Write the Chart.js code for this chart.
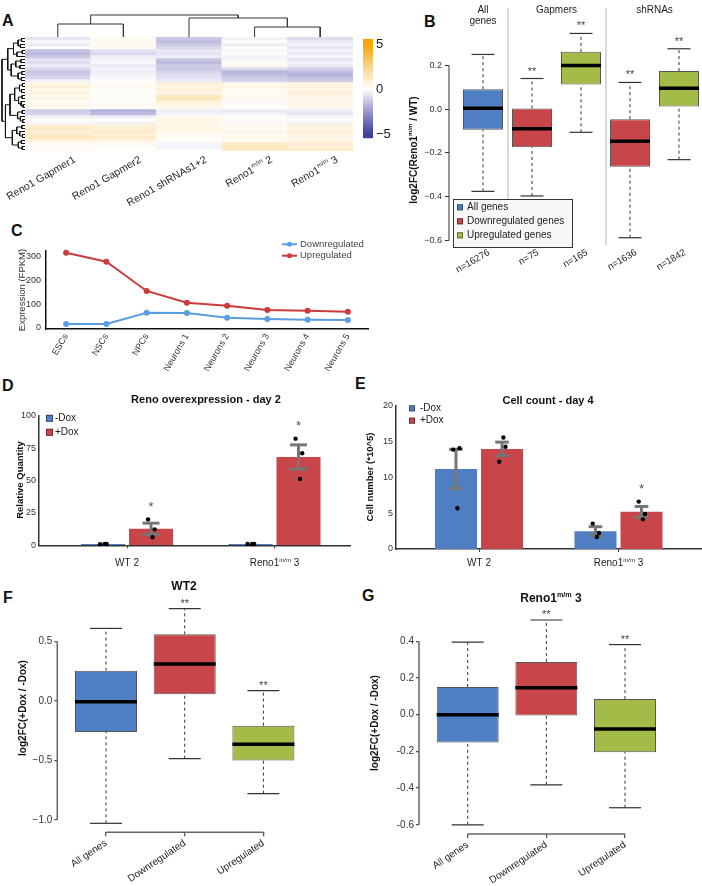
<!DOCTYPE html>
<html>
<head>
<meta charset="utf-8">
<title>Reno1 figure</title>
<script src="https://cdn.jsdelivr.net/npm/chart.js@4.4.1/dist/chart.umd.min.js"></script>
<style>
  html, body { margin:0; padding:0; background:#ffffff; }
  body { position:relative; width:702px; height:886px; overflow:hidden; font-family:"Liberation Sans", Arial, sans-serif; }
  canvas { position:absolute; }
  .panel { position:absolute; font-weight:bold; font-size:16px; line-height:16px; color:#111; }
</style>
</head>
<body>
<div class="panel" style="left:2px;top:13px">A</div>
<div class="panel" style="left:424px;top:14px">B</div>
<div class="panel" style="left:11px;top:223px">C</div>
<div class="panel" style="left:2px;top:378px">D</div>
<div class="panel" style="left:355px;top:376px">E</div>
<div class="panel" style="left:3px;top:590px">F</div>
<div class="panel" style="left:362px;top:588px">G</div>
<script>
// ======================= DATA =======================
// A – heatmap (log2FC per gene cluster row, 5 samples)
const heatColumns = ['Reno1 Gapmer1', 'Reno1 Gapmer2', 'Reno1 shRNAs1+2', 'Reno1^{m/m} 2', 'Reno1^{m/m} 3'];
const gapmer1 = [-0.6,-0.2,-0.5,-0.1,-1.4,-1.6,-1.3,-0.6,-0.8,-0.4,-0.9,-1.3,-1.2,-1.0,-0.3,0.6,0.8,0.4,0.7,0.3,0.6,0.2,0.5,0.3,-1.2,-1.0,-0.3,0.2,-0.2,1.0,1.3,0.8,1.1,1.4,0.7,0.2,0.1,0.3];
const gapmer2 = [0.3,0.4,0.2,0.3,-0.7,-0.9,-0.4,-0.3,-0.2,-0.5,-0.3,-0.4,-0.3,-0.2,0.1,0.2,0.3,0.1,0.2,-0.1,0.2,0.1,0.3,0.1,-1.8,-1.6,-0.4,0.1,-0.3,0.8,1.0,1.2,0.9,1.3,0.6,0.3,0.2,0.1];
const shrnas  = [-1.3,-1.5,-1.2,-0.9,-0.5,-0.6,-0.4,-1.4,-1.6,-1.2,-1.3,-1.0,-0.8,-0.7,-0.5,0.8,0.6,0.9,0.5,1.2,1.5,0.8,0.6,0.4,-0.4,-0.3,0.3,0.6,0.5,0.5,0.7,0.4,0.3,0.2,0.1,-0.2,-0.3,-0.1];
const renoMM2 = [-0.3,0.1,-0.4,0.2,-0.2,0.1,-0.3,-0.2,0.3,0.4,-0.8,-1.7,-1.5,-1.2,-1.0,0.4,0.5,0.3,0.2,0.4,0.3,-0.2,0.2,0.1,-0.5,-0.3,0.1,0.3,-0.1,0.4,0.3,0.5,0.2,0.4,0.3,1.2,1.4,1.1];
const renoMM3 = [-0.8,-0.5,-0.3,-0.6,-0.3,-0.5,-0.2,-0.6,-0.3,-0.5,-1.1,-1.5,-1.8,-1.4,-1.2,0.6,0.7,0.5,0.8,0.6,0.5,0.4,0.6,0.3,-0.4,-0.6,-0.2,0.2,-0.3,0.8,0.6,0.9,0.7,0.5,0.6,1.0,0.8,1.2];
// dendrograms: [mergeHeight, left, right]; leaves are indices
const colTree = [22, [13, 0, 1], [19, 2, [10, 3, 4]]];
const rowTree = [10,
  [7.5,
    [5, [3, [1.5, 0, 1], [2, 2, 3]], [3.5, [1.2, 4, 5], 6]],
    [6, [4, [1.8, 7, 8], [2.2, 9, 10]], [3, [1.4, 11, 12], [1.6, 13, 14]]]],
  [8.5,
    [6.5, [4.5, [2.4, [1.1, 15, 16], [1.5, 17, 18]], [2.8, [1.3, 19, 20], [1.7, 21, [0.8, 22, 23]]]],
          [3.2, [1.2, 24, 25], [2, 26, [1, 27, 28]]]],
    [5.5, [3.6, [1.4, 29, 30], [2.3, 31, [1.1, 32, 33]]], [2.9, [1.6, 34, 35], [1.2, 36, 37]]]]];
const colorScaleTicks = [-5, 0, 5];
const colorScaleRange = [-5.4, 5.6];

// B – boxplots log2FC(Reno1m/m / WT)
const bCounts = ['n=16276', 'n=75', 'n=165', 'n=1636', 'n=1842'];
const bLow  = [-0.376, -0.397, -0.106, -0.588, -0.231];
const bQ1   = [-0.094, -0.174,  0.113, -0.263,  0.012];
const bMed  = [ 0.004, -0.090,  0.200, -0.147,  0.096];
const bQ3   = [ 0.091,  0.003,  0.262, -0.046,  0.174];
const bHigh = [ 0.250,  0.140,  0.346,  0.122,  0.276];
const bKind = [0, 1, 2, 1, 2];
const bSig  = ['', '**', '**', '**', '**'];
const bGroups = [['All', 'genes'], ['Gapmers'], ['shRNAs']];
const bGroupOf = [0, 1, 1, 2, 2];
const bTicks = [-0.6, -0.4, -0.2, 0, 0.2];
const geneSets = ['All genes', 'Downregulated genes', 'Upregulated genes'];

// C – expression over differentiation
const stages = ['ESCs', 'NSCs', 'NPCs', 'Neurons 1', 'Neurons 2', 'Neurons 3', 'Neurons 4', 'Neurons 5'];
const downExpr = [17, 17, 64, 63, 43, 38, 35, 33];
const upExpr   = [315, 277, 155, 106, 93, 75, 72, 68];
const exprSeries = ['Downregulated', 'Upregulated'];
const cTicks = [0, 100, 200, 300];

// D – Reno overexpression day 2
const cellLines = ['WT 2', 'Reno1^{m/m} 3'];
const doxLabels = ['-Dox', '+Dox'];
const dMinus = [1, 1],      dMinusSem = [0, 0],     dMinusReps = [[0.9, 1.0, 1.1], [0.95, 1.0, 1.05]];
const dPlus  = [12.8, 68.2], dPlusSem = [4.3, 9.3],  dPlusReps  = [[20, 12.3, 6.2], [82.3, 71, 51.2]];
const dSigMinus = ['', ''], dSigPlus = ['*', '*'];
const dTicks = [0, 25, 50, 75, 100];

// E – cell count day 4 (*10^5)
const eMinus = [11.2, 2.5], eMinusSem = [2.75, 0.62], eMinusReps = [[13.9, 14.1, 5.7], [3.55, 2.24, 1.68]];
const ePlus  = [14.0, 5.2], ePlusSem  = [0.95, 0.75], ePlusReps  = [[12.2, 14.3, 15.6], [6.63, 4.9, 4.15]];
const eSigMinus = ['', ''], eSigPlus = ['', '*'];
const eTicks = [0, 5, 10, 15, 20];

// F / G – log2FC(+Dox / -Dox)
const fgCategories = ['All genes', 'Downregulated', 'Upregulated'];
const fLow = [-1.028, -0.485, -0.779], fQ1 = [-0.26, 0.056, -0.499], fMed = [-0.006, 0.311, -0.364], fQ3 = [0.255, 0.56, -0.207], fHigh = [0.61, 0.776, 0.087];
const fSig = ['', '**', '**'];
const fTicks = [-1, -0.5, 0, 0.5];
const gLow = [-0.6, -0.382, -0.507], gQ1 = [-0.151, -0.004, -0.204], gMed = [0, 0.147, -0.078], gQ3 = [0.151, 0.287, 0.085], gHigh = [0.395, 0.516, 0.382];
const gSig = ['', '**', '**'];
const gTicks = [-0.6, -0.4, -0.2, 0, 0.2, 0.4];

// ======================= STYLE / HELPERS =======================
const FF = '"Liberation Sans", Arial, Helvetica, sans-serif';
Chart.defaults.font.family = FF;
Chart.defaults.color = '#333';
Chart.defaults.animation = false;
Chart.defaults.responsive = false;
Chart.defaults.maintainAspectRatio = false;
Chart.defaults.events = [];
Chart.defaults.plugins.legend.display = false;
Chart.defaults.plugins.tooltip.enabled = false;

const C_BLUE = '#4f7fc2', C_RED = '#c8464a', C_GREEN = '#a3bc47';
const setColors = [C_BLUE, C_RED, C_GREEN];
const LINE_BLUE = '#5a9de3', LINE_RED = '#cc3b3b';
const ERR = '#767676';
const JIT = [-0.02, 0.025, 0.01];
const HEAT_STOPS = [[-5, [59, 63, 152]], [-2.5, [150, 148, 205]], [0, [255, 255, 255]], [2.5, [251, 212, 140]], [5, [247, 166, 0]]];

function heatColor(v) {
  v = Math.max(-5, Math.min(5, v));
  for (let k = 1; k < HEAT_STOPS.length; k++) {
    const [v0, c0] = HEAT_STOPS[k - 1], [v1, c1] = HEAT_STOPS[k];
    if (v <= v1) {
      const t = (v - v0) / (v1 - v0);
      return 'rgb(' + c0.map((c, j) => Math.round(c + (c1[j] - c) * t)).join(',') + ')';
    }
  }
  return 'rgb(247,166,0)';
}

function mk(l, t, w, h) {
  const c = document.createElement('canvas');
  c.width = w; c.height = h;
  Object.assign(c.style, { left: l + 'px', top: t + 'px', width: w + 'px', height: h + 'px' });
  c._l = l; c._t = t;
  document.body.appendChild(c);
  return c;
}
function geom(cv, plot) {
  return { yw: plot.l - cv.l, xh: cv.t + cv.h - plot.b,
           padding: { left: 0, top: plot.t - cv.t, right: cv.l + cv.w - plot.r, bottom: 0 } };
}
const xRange = (plot, p0, ppu) => ({ min: (plot.l - p0) / ppu, max: (plot.r - p0) / ppu });
const yRange = (plot, p0, ppu) => ({ min: (p0 - plot.b) / ppu, max: (p0 - plot.t) / ppu });
const fixedTicks = vals => s => { s.ticks = vals.map(v => ({ value: v })); };
const fmt1 = minus => v => { if (Math.abs(v) < 1e-9) return '0.0'; const s = Math.abs(v).toFixed(1); return v < 0 ? minus + s : s; };

function parseRich(s) {
  const out = []; const re = /\^\{([^}]*)\}/g; let last = 0, m;
  while ((m = re.exec(s))) { if (m.index > last) out.push({ t: s.slice(last, m.index) }); out.push({ t: m[1], sup: true }); last = re.lastIndex; }
  if (last < s.length) out.push({ t: s.slice(last) });
  return out;
}
function drawText(ctx, text, x, y, o = {}) {
  ctx.save();
  ctx.translate(x, y);
  if (o.rot) ctx.rotate(o.rot * Math.PI / 180);
  const size = o.size || 10, weight = o.bold ? 'bold ' : '';
  const segs = parseRich(text);
  const font = sup => weight + (sup ? (size * 0.6).toFixed(1) : size) + 'px ' + FF;
  const widths = segs.map(s => { ctx.font = font(s.sup); return ctx.measureText(s.t).width; });
  const total = widths.reduce((a, b) => a + b, 0);
  let cx = o.align === 'left' ? 0 : o.align === 'right' ? -total : -total / 2;
  ctx.fillStyle = o.color || '#222';
  ctx.textAlign = 'left';
  ctx.textBaseline = o.base || 'middle';
  segs.forEach((s, i) => { ctx.font = font(s.sup); ctx.fillText(s.t, cx, s.sup ? -size * 0.32 : 0); cx += widths[i]; });
  ctx.restore();
}
const R = (ch, X, Y) => [X - ch.canvas._l, Y - ch.canvas._t];
function P(ch, text, X, Y, o) { const [x, y] = R(ch, X, Y); drawText(ch.ctx, text, x, y, o); }
function line(ctx, x1, y1, x2, y2, color, w) {
  ctx.save(); ctx.strokeStyle = color; ctx.lineWidth = w; ctx.beginPath(); ctx.moveTo(x1, y1); ctx.lineTo(x2, y2); ctx.stroke(); ctx.restore();
}
function stars(ctx, s, x, yTop, gap, size, color) {
  drawText(ctx, s, x, yTop - gap + 0.55 * size, { size, color: color || '#444', base: 'alphabetic' });
}
function squareLegend(ch, labels, colors, X, Y, step, sq, size, dx) {
  const ctx = ch.ctx; const [x, y] = R(ch, X, Y);
  labels.forEach((lab, k) => {
    const cy = y + k * step;
    ctx.fillStyle = colors[k]; ctx.fillRect(x, cy - sq / 2, sq, sq);
    ctx.strokeStyle = 'rgba(0,0,0,0.5)'; ctx.lineWidth = 0.8; ctx.strokeRect(x + 0.4, cy - sq / 2 + 0.4, sq - 0.8, sq - 0.8);
    drawText(ctx, lab, x + dx, cy, { size, align: 'left', color: '#222' });
  });
}
function dendroSegments(tree, horizontal) {
  const pts = [];
  (function walk(node) {
    if (typeof node === 'number') return { p: node, h: 0 };
    const [h, L, Rn] = node; const a = walk(L), b = walk(Rn);
    const Q = (p, hh) => horizontal ? { x: hh, y: p } : { x: p, y: hh };
    pts.push(Q(a.p, a.h), Q(a.p, h), Q(b.p, h), Q(b.p, b.h), { x: null, y: null });
    return { p: (a.p + b.p) / 2, h };
  })(tree);
  return pts;
}
function boxSets(low, q1, med, q3, high, colors, cp, capR, medR) {
  const whisk = [], caps = [], meds = [];
  med.forEach((m, i) => {
    whisk.push({ x: i, y: low[i] }, { x: i, y: q1[i] }, { x: null, y: null }, { x: i, y: q3[i] }, { x: i, y: high[i] }, { x: null, y: null });
    caps.push({ x: i, y: low[i] }, { x: i, y: high[i] });
    meds.push({ x: i, y: m });
  });
  return [
    { type: 'line', xAxisID: 'x', data: whisk, borderColor: '#333', borderWidth: 1, borderDash: [3, 3], pointRadius: 0, spanGaps: false, order: 3, clip: false },
    { type: 'bar', xAxisID: 'x', data: q1.map((v, i) => ({ x: i, y: [v, q3[i]] })), backgroundColor: colors, borderColor: '#555', borderWidth: 1, borderSkipped: false, categoryPercentage: cp, barPercentage: 1, order: 2 },
    { type: 'line', xAxisID: 'x', data: caps, showLine: false, pointStyle: 'line', pointRadius: capR, pointBorderWidth: 1.2, pointBorderColor: '#333', order: 1, clip: false },
    { type: 'line', xAxisID: 'x', data: meds, showLine: false, pointStyle: 'line', pointRadius: medR, pointBorderWidth: 3.5, pointBorderColor: '#000', order: 0, clip: false }
  ];
}
function barSets(series, cp, bp, capR) {
  const ds = []; const off = [-cp / 4, cp / 4];
  series.forEach((s, k) => {
    ds.push({ type: 'bar', label: s.label, data: s.values.map((v, i) => ({ x: i, y: v })), backgroundColor: s.color, borderWidth: 0, categoryPercentage: cp, barPercentage: bp, order: 3 });
    const seg = [], caps = [], pts = [];
    s.values.forEach((v, i) => {
      const x = i + off[k];
      if (s.sem[i] > 0) {
        seg.push({ x, y: v - s.sem[i] }, { x, y: v + s.sem[i] }, { x: null, y: null });
        caps.push({ x, y: v - s.sem[i] }, { x, y: v + s.sem[i] });
      }
      s.reps[i].forEach((r, j) => pts.push({ x: x + JIT[j], y: r }));
    });
    ds.push({ type: 'line', data: seg, borderColor: ERR, borderWidth: 3, pointRadius: 0, spanGaps: false, order: 2, clip: false });
    ds.push({ type: 'line', data: caps, showLine: false, pointStyle: 'line', pointRadius: capR, pointBorderWidth: 3, pointBorderColor: ERR, order: 1, clip: false });
    ds.push({ type: 'line', data: pts, showLine: false, pointRadius: 2.2, pointBackgroundColor: '#000', pointBorderWidth: 0, order: 0, clip: false });
  });
  return ds;
}
function barStars(ch, series, cp) {
  const { ctx, scales: { x, y } } = ch; const off = [-cp / 4, cp / 4];
  series.forEach((s, k) => s.sig.forEach((sg, i) => {
    if (!sg) return;
    const top = Math.max(s.values[i] + s.sem[i], ...s.reps[i]);
    stars(ctx, sg, x.getPixelForValue(i + off[k]), y.getPixelForValue(top), 16, 13, '#555');
  }));
}

// ======================= A: HEATMAP =======================
const HM = { l: 25, t: 37, r: 353, b: 151 };
const heatCols = [gapmer1, gapmer2, shrnas, renoMM2, renoMM3];
const nRows = gapmer1.length;
const heatSets = [];
for (let r = 0; r < nRows; r++) {
  heatSets.push({ data: heatCols.map(() => 1), backgroundColor: heatCols.map(col => heatColor(col[r])), borderWidth: 0, barPercentage: 1, categoryPercentage: 1 });
}
new Chart(mk(0, 0, 400, 215), {
  type: 'bar',
  data: { labels: heatColumns, datasets: heatSets },
  options: {
    layout: { autoPadding: false, padding: { left: HM.l, top: HM.t, right: 400 - HM.r, bottom: 215 - HM.b } },
    scales: {
      x: { display: false, stacked: true, offset: true },
      y: { display: false, stacked: true, min: 0, max: nRows, reverse: true }
    }
  },
  plugins: [{ id: 'aLabels', afterDraw(ch) {
    const x = ch.scales.x;
    heatColumns.forEach((lab, i) => drawText(ch.ctx, lab, x.getPixelForValue(i) + 17, HM.b + 8, { size: 10.5, align: 'right', rot: -30, color: '#222' }));
  } }]
});

// column dendrogram
const colW = (HM.r - HM.l) / heatColumns.length;
new Chart(mk(0, 0, 400, 40), {
  type: 'scatter',
  data: { datasets: [{ data: dendroSegments(colTree, false), showLine: true, borderColor: '#333', borderWidth: 1, pointRadius: 0, spanGaps: false, clip: false }] },
  options: {
    layout: { autoPadding: false, padding: { left: HM.l + colW / 2, right: 400 - (HM.r - colW / 2), top: 15, bottom: 3 } },
    scales: { x: { type: 'linear', display: false, min: 0, max: heatColumns.length - 1 }, y: { type: 'linear', display: false, min: 0, max: colTree[0] } }
  }
});
// row dendrogram
new Chart(mk(0, HM.t, 27, HM.b - HM.t), {
  type: 'scatter',
  data: { datasets: [{ data: dendroSegments(rowTree, true), showLine: true, borderColor: '#111', borderWidth: 1, pointRadius: 0, spanGaps: false, clip: false }] },
  options: {
    layout: { autoPadding: false, padding: { left: 2, right: 2, top: 0, bottom: 0 } },
    scales: { x: { type: 'linear', display: false, min: 0, max: rowTree[0], reverse: true }, y: { type: 'linear', display: false, min: -0.5, max: nRows - 0.5, reverse: true } }
  }
});
// colour bar
new Chart(mk(355, 28, 47, 122), {
  type: 'bar',
  data: { labels: [''], datasets: [{ data: [colorScaleRange], borderWidth: 0, barPercentage: 1, categoryPercentage: 1,
    backgroundColor: (c) => {
      const ch = c.chart; if (!ch.chartArea) return null;
      const y = ch.scales.y; const [lo, hi] = colorScaleRange;
      const g = ch.ctx.createLinearGradient(0, y.getPixelForValue(lo), 0, y.getPixelForValue(hi));
      for (let k = 0; k <= 20; k++) g.addColorStop(k / 20, heatColor(lo + (hi - lo) * k / 20));
      return g;
    } }] },
  options: {
    layout: { autoPadding: false, padding: { left: 8, top: 9.3, right: 0, bottom: 150 - 138.3 } },
    scales: {
      x: { display: false },
      y: { position: 'right', min: colorScaleRange[0], max: colorScaleRange[1], afterBuildTicks: fixedTicks(colorScaleTicks), afterFit: s => { s.width = 29; },
           grid: { display: false, drawTicks: false }, border: { display: false },
           ticks: { font: { size: 13 }, color: '#222', padding: 3, callback: v => v < 0 ? '\u2212' + Math.abs(v) : String(v) } }
    }
  }
});

// ======================= B: BOXPLOTS =======================
const cvB = { l: 380, t: 0, w: 322, h: 290 }, plotB = { l: 449, t: 0, r: 702, b: 245 };
const gB = geom(cvB, plotB);
const xrB = xRange(plotB, 483, 49), yrB = yRange(plotB, 104.3, 226.5);
const sepB = []; for (let i = 1; i < bGroupOf.length; i++) if (bGroupOf[i] !== bGroupOf[i - 1]) sepB.push(i - 0.5);
new Chart(mk(cvB.l, cvB.t, cvB.w, cvB.h), {
  type: 'bar',
  data: { datasets: boxSets(bLow, bQ1, bMed, bQ3, bHigh, bKind.map(k => setColors[k]), 0.816, 11.5, 20) },
  options: {
    layout: { autoPadding: false, padding: gB.padding },
    scales: {
      x: { type: 'linear', ...xrB, offset: false, afterBuildTicks: fixedTicks(bCounts.map((_, i) => i)), afterFit: s => { s.height = gB.xh; },
           grid: { display: false, drawTicks: false, offset: false }, border: { display: false },
           ticks: { autoSkip: false, minRotation: 30, maxRotation: 30, padding: 2, labelOffset: 6, font: { size: 9.5 }, color: '#222', callback: (v, i) => bCounts[i] } },
      xs: { type: 'linear', position: 'top', ...xrB, offset: false, afterBuildTicks: fixedTicks(sepB), afterFit: s => { s.height = 0; },
            grid: { color: '#d9d9d9', lineWidth: 2, drawTicks: false, offset: false }, border: { display: false }, ticks: { display: false } },
      y: { type: 'linear', ...yrB, afterBuildTicks: fixedTicks(bTicks), afterFit: s => { s.width = gB.yw; },
           grid: { drawOnChartArea: false, tickLength: 4, color: '#333' }, border: { display: false },
           ticks: { font: { size: 9 }, color: '#333', padding: 3, callback: fmt1('\u2212') } }
    }
  },
  plugins: [{ id: 'bDeco', afterDraw(ch) {
    const { ctx, chartArea: a, scales: { x, y } } = ch;
    line(ctx, a.left, y.getPixelForValue(bTicks[0]), a.left, y.getPixelForValue(bTicks[bTicks.length - 1]), '#333', 1);
    bSig.forEach((s, i) => { if (s) stars(ctx, s, x.getPixelForValue(i), y.getPixelForValue(bHigh[i]), 10, 11); });
    bGroups.forEach((g, gi) => {
      const mem = bGroupOf.map((G, i) => G === gi ? i : -1).filter(i => i >= 0);
      const cx = mem.reduce((s, i) => s + x.getPixelForValue(i), 0) / mem.length;
      g.forEach((txt, li) => drawText(ctx, txt, cx, 10 + li * 11.5, { size: 10, color: '#222' }));
    });
    // legend box
    const [lx, ly] = R(ch, 453, 199);
    ctx.fillStyle = '#f7f7f7'; ctx.fillRect(lx, ly, 119, 48);
    ctx.strokeStyle = '#333'; ctx.lineWidth = 1; ctx.strokeRect(lx + 0.5, ly + 0.5, 119, 48);
    squareLegend(ch, geneSets, setColors, 457, 207.3, 14, 6, 10, 10);
    P(ch, 'log2FC(Reno1^{m/m} / WT)', 414, 150, { size: 10, bold: true, rot: -90, color: '#111' });
  } }]
});

// ======================= C: LINE CHART =======================
const cvC = { l: 0, t: 220, w: 372, h: 155 }, plotC = { l: 46, t: 251, r: 368, b: 329 };
const gC = geom(cvC, plotC);
const yrC = yRange(plotC, 328, 0.239);
new Chart(mk(cvC.l, cvC.t, cvC.w, cvC.h), {
  type: 'line',
  data: { labels: stages, datasets: [
    { label: exprSeries[0], data: downExpr, borderColor: LINE_BLUE, backgroundColor: LINE_BLUE, pointBackgroundColor: LINE_BLUE, borderWidth: 2, pointRadius: 3, pointBorderWidth: 0, tension: 0, clip: false },
    { label: exprSeries[1], data: upExpr, borderColor: LINE_RED, backgroundColor: LINE_RED, pointBackgroundColor: LINE_RED, borderWidth: 2, pointRadius: 3, pointBorderWidth: 0, tension: 0, clip: false }
  ] },
  options: {
    layout: { autoPadding: false, padding: gC.padding },
    scales: {
      x: { offset: true, afterFit: s => { s.height = gC.xh; }, grid: { display: false, drawTicks: false }, border: { display: true, color: '#111', width: 1.5 },
           ticks: { autoSkip: false, minRotation: 60, maxRotation: 60, padding: 3, font: { size: 9 }, color: '#333' } },
      y: { ...yrC, afterBuildTicks: fixedTicks(cTicks), afterFit: s => { s.width = gC.yw; }, grid: { display: false, drawTicks: false }, border: { display: true, color: '#111', width: 1.5 },
           ticks: { font: { size: 9 }, color: '#333', padding: 5 } }
    }
  },
  plugins: [{ id: 'cDeco', afterDraw(ch) {
    const ctx = ch.ctx;
    P(ch, 'Expression (FPKM)', 22, 290, { size: 9.5, rot: -90, color: '#333' });
    [LINE_BLUE, LINE_RED].forEach((col, k) => {
      const [x0, y0] = R(ch, 282, 244.3 + k * 11.4);
      line(ctx, x0, y0, x0 + 15, y0, col, 2);
      ctx.fillStyle = col; ctx.beginPath(); ctx.arc(x0 + 7.5, y0, 2.5, 0, Math.PI * 2); ctx.fill();
      drawText(ctx, exprSeries[k], x0 + 18, y0, { size: 9.5, align: 'left', color: '#444' });
    });
  } }]
});

// ======================= D: BAR CHART =======================
const cvD = { l: 0, t: 375, w: 352, h: 205 }, plotD = { l: 39, t: 415.7, r: 350, b: 545.3 };
const gD = geom(cvD, plotD);
const cpD = 0.651, bpD = 0.917;
const dSeries = [
  { label: doxLabels[0], color: C_BLUE, values: dMinus, sem: dMinusSem, reps: dMinusReps, sig: dSigMinus },
  { label: doxLabels[1], color: C_RED, values: dPlus, sem: dPlusSem, reps: dPlusReps, sig: dSigPlus }];
new Chart(mk(cvD.l, cvD.t, cvD.w, cvD.h), {
  type: 'bar',
  data: { datasets: barSets(dSeries, cpD, bpD, 8.5) },
  options: {
    layout: { autoPadding: false, padding: gD.padding },
    scales: {
      x: { type: 'linear', ...xRange(plotD, 127, 147.5), offset: false, afterBuildTicks: fixedTicks(cellLines.map((_, i) => i)), afterFit: s => { s.height = gD.xh; },
           grid: { drawOnChartArea: false, tickLength: 3, color: '#333', offset: false }, border: { color: '#333', width: 1.5 }, ticks: { display: false } },
      y: { ...yRange(plotD, 545.3, 1.296), afterBuildTicks: fixedTicks(dTicks), afterFit: s => { s.width = gD.yw; },
           grid: { display: false, drawTicks: false }, border: { color: '#333', width: 1.5 }, ticks: { font: { size: 9 }, color: '#333', padding: 3 } }
    }
  },
  plugins: [{ id: 'dDeco', afterDraw(ch) {
    const x = ch.scales.x;
    barStars(ch, dSeries, cpD);
    P(ch, 'Reno overexpression - day 2', 206, 400, { size: 11, bold: true, color: '#111' });
    squareLegend(ch, doxLabels, [C_BLUE, C_RED], 46, 418.3, 14, 7, 10, 9);
    P(ch, 'Relative Quantity', 20, 480, { size: 9.5, bold: true, rot: -90, color: '#111' });
    cellLines.forEach((lab, i) => drawText(ch.ctx, lab, x.getPixelForValue(i), 563.3 - cvD.t, { size: 10, color: '#222' }));
  } }]
});

// ======================= E: BAR CHART =======================
const cvE = { l: 352, t: 375, w: 350, h: 205 }, plotE = { l: 396, t: 406, r: 702, b: 549 };
const gE = geom(cvE, plotE);
const cpE = 0.66, bpE = 0.913;
const eSeries = [
  { label: doxLabels[0], color: C_BLUE, values: eMinus, sem: eMinusSem, reps: eMinusReps, sig: eSigMinus },
  { label: doxLabels[1], color: C_RED, values: ePlus, sem: ePlusSem, reps: ePlusReps, sig: eSigPlus }];
new Chart(mk(cvE.l, cvE.t, cvE.w, cvE.h), {
  type: 'bar',
  data: { datasets: barSets(eSeries, cpE, bpE, 6.8) },
  options: {
    layout: { autoPadding: false, padding: gE.padding },
    scales: {
      x: { type: 'linear', ...xRange(plotE, 479, 139.5), offset: false, afterBuildTicks: fixedTicks(cellLines.map((_, i) => i)), afterFit: s => { s.height = gE.xh; },
           grid: { drawOnChartArea: false, tickLength: 3, color: '#333', offset: false }, border: { color: '#333', width: 1.5 }, ticks: { display: false } },
      y: { ...yRange(plotE, 549, 7.15), afterBuildTicks: fixedTicks(eTicks), afterFit: s => { s.width = gE.yw; },
           grid: { display: false, drawTicks: false }, border: { color: '#333', width: 1.5 }, ticks: { font: { size: 9 }, color: '#333', padding: 3 } }
    }
  },
  plugins: [{ id: 'eDeco', afterDraw(ch) {
    const x = ch.scales.x;
    barStars(ch, eSeries, cpE);
    P(ch, 'Cell count - day 4', 548, 401, { size: 11, bold: true, color: '#111' });
    squareLegend(ch, doxLabels, [C_BLUE, C_RED], 409, 408.3, 12.4, 6, 10, 11);
    P(ch, 'Cell number (*10^5)', 370, 477, { size: 9.5, bold: true, rot: -90, color: '#111' });
    cellLines.forEach((lab, i) => drawText(ch.ctx, lab, x.getPixelForValue(i), 563.3 - cvE.t, { size: 10, color: '#222' }));
  } }]
});

// ======================= F / G: BOXPLOTS =======================
function fgChart(cv, plot, x0, dx, y0, ppu, low, q1, med, q3, high, sig, ticks, minus, title, titleXY, yTitleXY) {
  const g = geom(cv, plot);
  new Chart(mk(cv.l, cv.t, cv.w, cv.h), {
    type: 'bar',
    data: { datasets: boxSets(low, q1, med, q3, high, setColors, 0.788, 16, 31) },
    options: {
      layout: { autoPadding: false, padding: g.padding },
      scales: {
        x: { type: 'linear', ...xRange(plot, x0, dx), offset: false, afterBuildTicks: fixedTicks(fgCategories.map((_, i) => i)), afterFit: s => { s.height = g.xh; },
             grid: { drawOnChartArea: false, tickLength: 4, color: '#555', lineWidth: 1.3, offset: false }, border: { display: false },
             ticks: { autoSkip: false, minRotation: 34, maxRotation: 34, padding: 1, font: { size: 10 }, color: '#222', callback: (v, i) => fgCategories[i] } },
        y: { type: 'linear', ...yRange(plot, y0, ppu), afterBuildTicks: fixedTicks(ticks), afterFit: s => { s.width = g.yw; },
             grid: { drawOnChartArea: false, tickLength: 3, color: '#555', lineWidth: 1.3 }, border: { display: false },
             ticks: { font: { size: 10 }, color: '#333', padding: 2, callback: fmt1(minus) } }
      }
    },
    plugins: [{ id: 'fgDeco', afterDraw(ch) {
      const { ctx, chartArea: a, scales: { x, y } } = ch;
      line(ctx, a.left, y.getPixelForValue(ticks[0]), a.left, y.getPixelForValue(ticks[ticks.length - 1]), '#666', 1.5);
      line(ctx, x.getPixelForValue(0), a.bottom, x.getPixelForValue(fgCategories.length - 1), a.bottom, '#666', 1.5);
      sig.forEach((s, i) => { if (s) stars(ctx, s, x.getPixelForValue(i), y.getPixelForValue(high[i]), 8, 11); });
      P(ch, title, titleXY[0], titleXY[1], { size: 12, bold: true, color: '#111' });
      P(ch, 'log2FC(+Dox / -Dox)', yTitleXY[0], yTitleXY[1], { size: 10, bold: true, rot: -90, color: '#111' });
    } }]
  });
}
fgChart({ l: 0, t: 580, w: 350, h: 306 }, { l: 57.3, t: 592, r: 330, b: 832.3 }, 106, 78.7, 701, 119,
        fLow, fQ1, fMed, fQ3, fHigh, fSig, fTicks, '\u2212', 'WT2', [184, 587], [23, 708]);
fgChart({ l: 350, t: 580, w: 352, h: 306 }, { l: 419, t: 605, r: 690, b: 834 }, 467.7, 78.65, 714.7, 183.5,
        gLow, gQ1, gMed, gQ3, gHigh, gSig, gTicks, '-', 'Reno1^{m/m} 3', [551, 599], [375, 723]);
</script>
</body>
</html>
